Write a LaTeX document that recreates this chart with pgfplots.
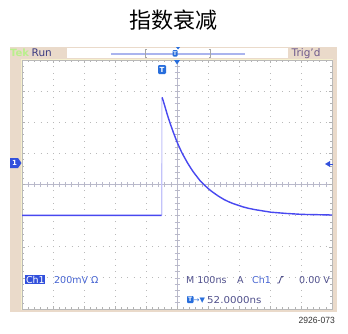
\documentclass[border=0pt]{standalone}
\usepackage{fontspec}
\setmainfont{DejaVu Sans}
\newfontfamily\cjk{Noto Sans CJK SC}
\newfontfamily\lib{Liberation Sans}
\usepackage{pgfplots}
\pgfplotsset{compat=1.18}
\definecolor{tekTan}{RGB}{234,218,202}
\definecolor{tekGreen}{RGB}{185,240,140}
\definecolor{runBlue}{RGB}{60,60,130}
\definecolor{trigC}{RGB}{110,90,140}
\definecolor{traceBlue}{RGB}{72,72,240}
\definecolor{riseC}{RGB}{195,195,250}
\definecolor{chBox}{RGB}{50,80,220}
\definecolor{mvBlue}{RGB}{70,100,210}
\definecolor{infoC}{RGB}{80,80,140}
\definecolor{gridC}{RGB}{185,185,185}
\definecolor{crossC}{RGB}{185,185,205}
\definecolor{markBlue}{RGB}{40,110,220}
\definecolor{hdrLine}{RGB}{170,180,238}
\definecolor{creamC}{RGB}{245,240,205}
\begin{document}
\begin{tikzpicture}[x=1pt,y=1pt]
\useasboundingbox (0,0) rectangle (348,333);
% title
\node[font=\cjk\fontsize{22}{24}\selectfont] at (173.5,312.5) {指数衰减};
% frame
\fill[tekTan] (10,21) rectangle (337,286);
\fill[white] (67,275.5) rectangle (288,285.5);
\draw[creamC, line width=1.2pt] (21.4,23.4) rectangle (332.6,273.6);
\fill[white] (22,24) rectangle (332,273);
% crosshair
\draw[crossC, line width=0.6pt] (22,148.5) -- (332,148.5);
\foreach \i in {1,...,49} \draw[crossC, line width=0.6pt] ({22+6.2*\i},146) -- ++(0,5);
\draw[crossC, line width=0.6pt] (177,24) -- (177,273);
\foreach \i in {1,...,39} \draw[crossC, line width=0.6pt] (174.5,{24+6.225*\i}) -- ++(5,0);
\begin{axis}[
  at={(22pt,24pt)}, anchor=south west, scale only axis,
  width=310pt, height=249pt,
  xmin=-5, xmax=5, ymin=-4, ymax=4,
  xtick={-5,...,5}, ytick={-4,...,4},
  minor tick num=4,
  xticklabel=\empty, yticklabel=\empty,
  grid=major,
  major grid style={draw=gridC, line width=0.8pt, dash pattern=on 0.8pt off 5.4pt},
  tick align=inside, major tick length=3pt, minor tick length=2pt,
  tick style={draw=gray!60, line width=0.5pt},
  axis line style={draw=gray!55, line width=0.6pt},
  unbounded coords=jump,
]
\addplot[color=riseC, line width=1.1pt, no marks] coordinates {(-0.493,-0.99) (-0.490,0.9) (-0.487,2.78)};
\addplot[color=traceBlue, line width=1.4pt, no marks, line join=round] coordinates {
(-5,-0.99) (-3,-0.99) (-0.50,-0.99) (-0.49,nan)
(-0.48,2.80)
(-0.42,2.61) (-0.37,2.44) (-0.32,2.27) (-0.27,2.11) (-0.22,1.96) (-0.17,1.82)
(-0.12,1.68) (-0.07,1.55) (-0.02,1.42) (0.03,1.30) (0.08,1.19) (0.13,1.08)
(0.18,0.98) (0.23,0.89) (0.28,0.80) (0.33,0.71) (0.43,0.55) (0.53,0.40)
(0.63,0.27) (0.73,0.14) (0.83,0.04) (0.93,-0.06) (1.03,-0.15) (1.13,-0.23)
(1.23,-0.30) (1.33,-0.37) (1.43,-0.43) (1.53,-0.49) (1.68,-0.56) (1.83,-0.62)
(1.98,-0.67) (2.13,-0.72) (2.33,-0.77) (2.53,-0.81) (2.78,-0.85) (3.03,-0.89)
(3.28,-0.91) (3.53,-0.93) (4.03,-0.96) (4.53,-0.97) (5.0,-0.98)};
\end{axis}
% header
\node[anchor=base west, inner sep=0, text=tekGreen, font=\bfseries\fontsize{10}{12}\selectfont] at (10,276.5) {Tek};
\node[anchor=base west, inner sep=0, text=runBlue, font=\fontsize{10.5}{12}\selectfont] at (31.5,276.5) {Run};
\node[anchor=base west, inner sep=0, text=trigC, font=\fontsize{10.5}{12}\selectfont] at (291.5,276.5) {Trig'd};
\draw[hdrLine, line width=1.2pt] (111,279) -- (245,279);
\draw[gray!70, line width=0.6pt] (146.5,284) -- (145,284) -- (145,276) -- (146.5,276);
\draw[gray!70, line width=0.6pt] (208.5,284) -- (210,284) -- (210,276) -- (208.5,276);
\fill[markBlue, rounded corners=1pt] (172.5,276.5) rectangle (177.5,283);
\node[text=white, font=\bfseries\fontsize{5}{6}\selectfont, inner sep=0] at (175,279.7) {T};
\fill[markBlue] (176,286) -- (180,286) -- (178,283.5) -- cycle;
% markers in grid
\fill[markBlue, rounded corners=1.2pt] (158,259) rectangle (166,268);
\node[text=white, font=\bfseries\fontsize{7}{8}\selectfont, inner sep=0] at (162,263.5) {T};
\fill[markBlue] (174,273) -- (180,273) -- (177,268.5) -- cycle;
% channel marker left
\fill[chBox] (10,165) -- (18,165) -- (21.5,170) -- (18,175) -- (10,175) -- cycle;
\node[text=white, font=\bfseries\fontsize{7}{8}\selectfont, inner sep=0] at (14.5,170) {1};
% trigger level marker right
\fill[chBox] (325,169) -- (330,172) -- (330,166) -- cycle;
\draw[chBox, line width=0.8pt] (329,169) -- (332.5,169);
% bottom info
\node[anchor=base west, inner sep=0.8pt, fill=chBox, text=white, font=\fontsize{9.5}{11}\selectfont] at (25,50) {Ch1};
\node[anchor=base west, inner sep=0, text=mvBlue, font=\fontsize{9.5}{11}\selectfont] at (54,50) {200mV Ω};
\node[anchor=base west, inner sep=0, text=infoC, font=\fontsize{9.5}{11}\selectfont] at (186,50) {M 100ns};
\node[anchor=base west, inner sep=0, text=infoC, font=\fontsize{9.5}{11}\selectfont] at (237,50) {A};
\node[anchor=base west, inner sep=0, text=mvBlue, font=\fontsize{9.5}{11}\selectfont] at (252,50) {Ch1};
\draw[infoC, line width=0.9pt] (277,50) -- (279,50) -- (281.5,56.5) -- (283.5,56.5);
\node[anchor=base west, inner sep=0, text=infoC, font=\fontsize{9.5}{11}\selectfont] at (299,50) {0.00 V};
\fill[markBlue, rounded corners=0.8pt] (187,30) rectangle (193.5,37);
\node[text=white, font=\bfseries\fontsize{6}{7}\selectfont, inner sep=0] at (190.2,33.5) {T};
\node[anchor=base west, inner sep=0, text=markBlue, font=\fontsize{7}{8}\selectfont] at (193.5,31) {→▼};
\node[anchor=base west, inner sep=0, text=infoC, font=\fontsize{9.5}{11}\selectfont, xscale=1.08] at (207,30) {52.0000ns};
% footer
\node[anchor=base east, inner sep=0, text=black!80, font=\lib\fontsize{9}{10}\selectfont, xscale=0.95] at (335,10) {2926-073};
\end{tikzpicture}
\end{document}
